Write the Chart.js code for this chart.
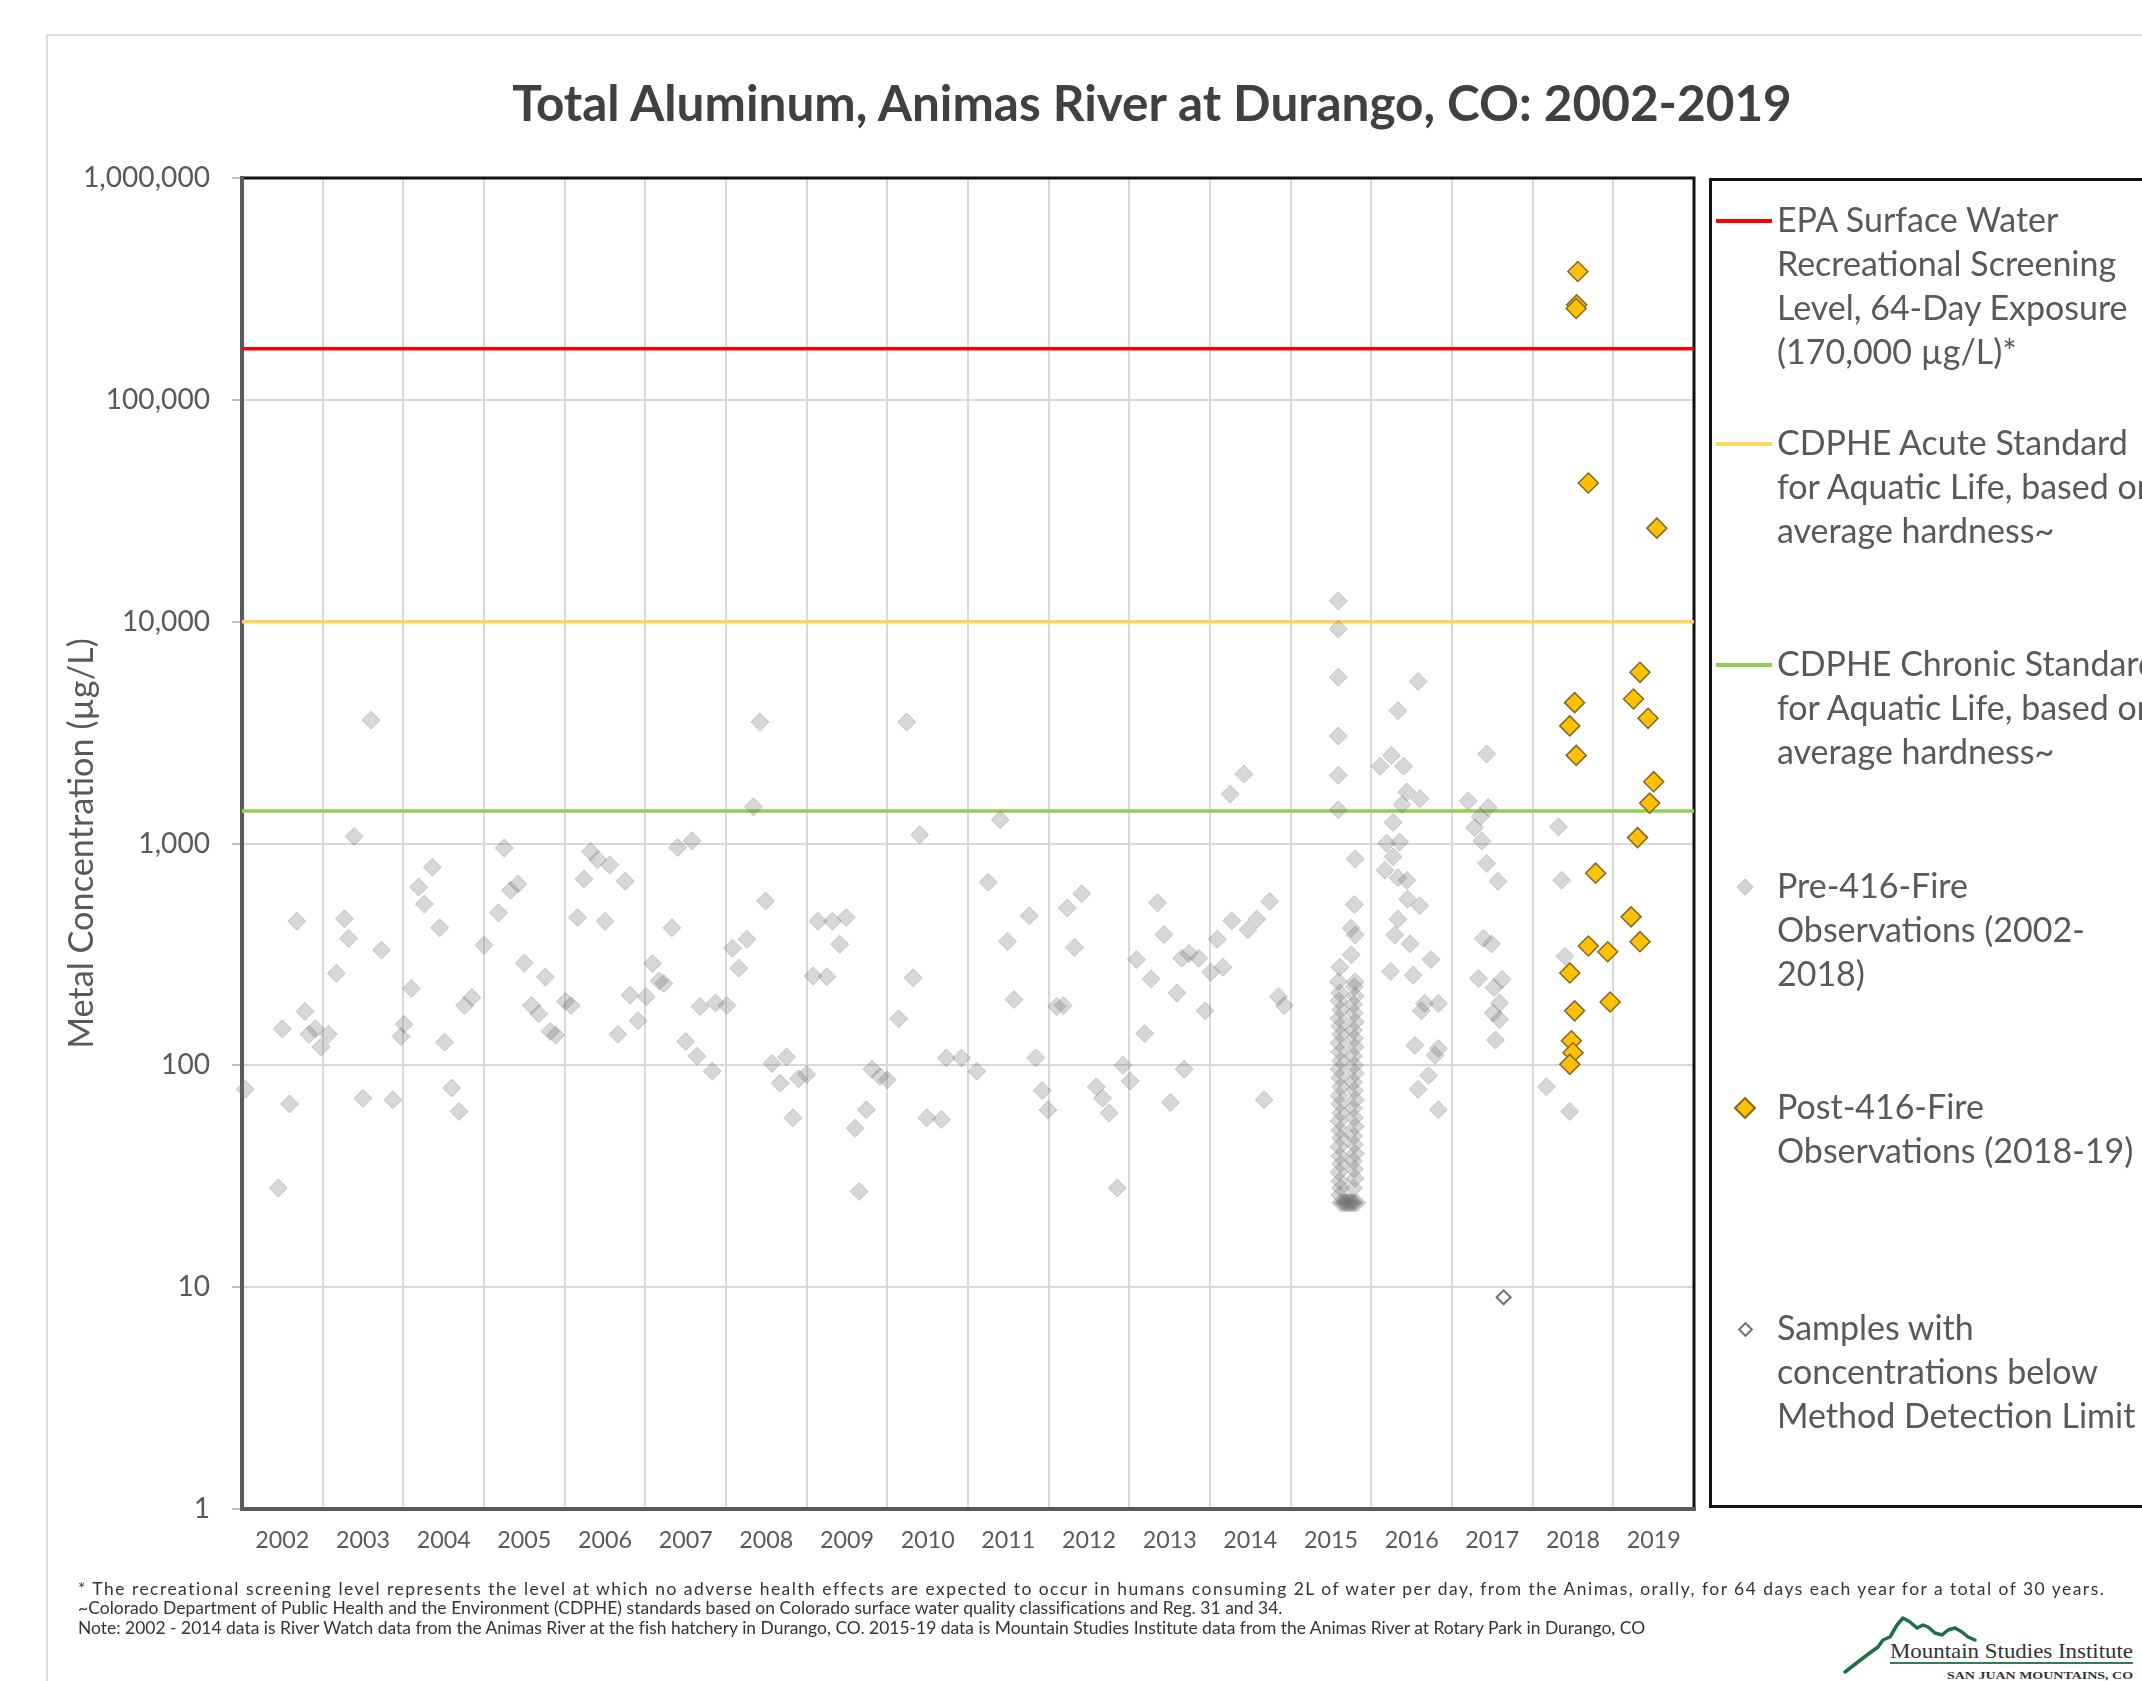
<!DOCTYPE html>
<html>
<head>
<meta charset="utf-8">
<title>Total Aluminum, Animas River at Durango, CO: 2002-2019</title>
<script src="https://cdn.jsdelivr.net/npm/chart.js@4.4.1/dist/chart.umd.min.js"></script>
<style>
  html, body { margin: 0; padding: 0; background: #fff; }
  body { position: relative; width: 2142px; height: 1681px; overflow: hidden; font-family: Lato, 'Open Sans', sans-serif; }
  #frame { position: absolute; left: 46px; top: 34px; width: 2400px; height: 1800px; border: 2px solid #dcdcdc; box-sizing: border-box; }
  #chart { position: absolute; left: 0; top: 0; }
  #legendBox { position: absolute; left: 1709px; top: 178px; width: 700px; height: 1330px; border: 3px solid #111; box-sizing: border-box; }
  .txt { position: absolute; white-space: nowrap; }
  .mk { position: absolute; box-sizing: border-box; }
</style>
</head>
<body>
<div id="frame"></div>
<canvas id="chart" width="1720" height="1600"></canvas>
<div id="legendBox"></div>
<div id="overlay"></div>
<svg id="logo" width="312" height="81" style="position:absolute;left:1830px;top:1600px" xmlns="http://www.w3.org/2000/svg">
  <polyline points="15,72 37,55 48,47 53,40 60,37 67,25 73,18 80,22 87,28 93,25 98,27 105,33 112,35 118,30 125,28 132,32 138,37 145,40"
            fill="none" stroke="#1f6e4a" stroke-width="3.5" stroke-linejoin="round" stroke-linecap="round"/>
  <line x1="60" y1="63" x2="303" y2="63" stroke="#2f7d5a" stroke-width="2"/>
  <text x="60" y="58" font-family="Liberation Serif, serif" font-size="21" fill="#333" textLength="243" lengthAdjust="spacingAndGlyphs">Mountain Studies Institute</text>
  <text x="117" y="79" font-family="Liberation Serif, serif" font-size="10" font-weight="bold" fill="#333" textLength="186" lengthAdjust="spacingAndGlyphs">SAN JUAN MOUNTAINS, CO</text>
</svg>
<script>
// ---- data (decimal year, µg/L) ----
const yearTicks = [2002, 2003, 2004, 2005, 2006, 2007, 2008, 2009, 2010, 2011,
                   2012, 2013, 2014, 2015, 2016, 2017, 2018, 2019, 2020];
const yearLabels = ['2002', '2003', '2004', '2005', '2006', '2007', '2008', '2009', '2010',
                    '2011', '2012', '2013', '2014', '2015', '2016', '2017', '2018', '2019'];
const concTicks = [1, 10, 100, 1000, 10000, 100000, 1000000];

const standardNames  = ['EPA Surface Water Recreational Screening Level', 'CDPHE Acute Standard', 'CDPHE Chronic Standard'];
const standardValues = [170000, 10000, 1400];

const preFire = [
  [2002.04, 78], [2002.68, 446], [2002.50, 146], [2002.59, 67], [2002.45, 28], [2002.78, 175],
  [2002.83, 138], [2002.91, 146], [2002.98, 121], [2003.07, 138], [2003.17, 260], [2003.27, 458],
  [2003.32, 373], [2003.39, 1076], [2003.60, 3597], [2003.50, 71], [2003.73, 331], [2003.87, 70],
  [2004.01, 153], [2003.97, 135], [2004.10, 222], [2004.19, 636], [2004.36, 782], [2004.26, 533],
  [2004.45, 417], [2004.51, 127], [2004.60, 79], [2004.69, 62], [2004.76, 186], [2004.85, 202],
  [2005.00, 348], [2005.18, 487], [2005.25, 955], [2005.33, 616], [2005.42, 657], [2005.50, 289],
  [2005.59, 186], [2005.68, 171], [2005.76, 250], [2005.82, 142], [2005.89, 137], [2006.01, 194],
  [2006.08, 186], [2006.16, 464], [2006.24, 691], [2006.32, 920], [2006.41, 845], [2006.56, 801],
  [2006.50, 446], [2006.75, 676], [2006.66, 138], [2006.81, 207], [2006.91, 159], [2007.01, 204],
  [2007.09, 288], [2007.17, 240], [2007.23, 234], [2007.33, 417], [2007.40, 959], [2007.58, 1028],
  [2007.50, 128], [2007.64, 110], [2007.83, 94], [2007.68, 184], [2007.87, 191], [2008.01, 186],
  [2008.08, 337], [2008.16, 274],
  [2008.42, 3525], [2008.34, 1465], [2008.49, 551], [2008.26, 370], [2008.57, 102], [2008.75, 109],
  [2008.67, 83], [2008.83, 58], [2008.90, 87], [2009.00, 91], [2009.08, 253], [2009.14, 446],
  [2009.25, 251], [2009.32, 446], [2009.41, 351], [2009.49, 464], [2009.60, 52], [2009.74, 63],
  [2009.65, 27], [2009.81, 96], [2009.91, 89], [2010.00, 86], [2010.14, 162], [2010.24, 3525],
  [2010.32, 248], [2010.40, 1094], [2010.49, 58], [2010.67, 57], [2010.73, 108], [2010.92, 108],
  [2011.11, 94], [2011.25, 668], [2011.40, 1279], [2011.49, 362], [2011.76, 472], [2011.57, 198],
  [2011.84, 108], [2011.92, 77], [2011.99, 63], [2012.10, 184], [2012.18, 186], [2012.23, 512],
  [2012.41, 593], [2012.32, 340], [2012.59, 80], [2012.67, 71], [2012.75, 61], [2012.85, 28],
  [2012.92, 100], [2013.01, 85], [2013.09, 300], [2013.19, 139], [2013.27, 245], [2013.35, 540],
  [2013.43, 389], [2013.51, 68], [2013.59, 212], [2013.65, 304], [2013.74, 319], [2013.86, 304],
  [2013.68, 96], [2013.94, 176], [2014.01, 263], [2014.09, 370], [2014.16, 277], [2014.25, 1670],
  [2014.27, 449], [2014.42, 2055], [2014.74, 548], [2014.47, 409], [2014.58, 456], [2014.85, 204],
  [2014.92, 186], [2014.67, 70],
  // 2015
  [2015.59, 12400], [2015.59, 9270], [2015.59, 5620], [2015.59, 3050], [2015.59, 2030], [2015.59, 1419],
  [2015.80, 851], [2015.79, 531], [2015.75, 415], [2015.80, 387], [2015.75, 315], [2015.61, 277],
  [2015.80, 238], [2015.59, 238],
  [2015.61, 212], [2015.60, 195], [2015.62, 178], [2015.60, 163], [2015.61, 150], [2015.62, 138],
  [2015.60, 126], [2015.61, 115], [2015.62, 105], [2015.60, 96], [2015.61, 88], [2015.62, 80],
  [2015.60, 73], [2015.61, 67], [2015.62, 61], [2015.60, 56], [2015.61, 51], [2015.62, 47],
  [2015.60, 43], [2015.61, 39], [2015.62, 36], [2015.60, 33], [2015.61, 30], [2015.62, 28], [2015.61, 26],
  [2015.79, 226], [2015.80, 205], [2015.78, 188], [2015.79, 172], [2015.80, 157], [2015.78, 144],
  [2015.79, 132], [2015.80, 121], [2015.78, 110], [2015.79, 100], [2015.80, 92], [2015.78, 84],
  [2015.79, 77], [2015.80, 70], [2015.78, 64], [2015.79, 58], [2015.80, 53], [2015.78, 48],
  [2015.79, 44], [2015.80, 40], [2015.78, 37], [2015.79, 34], [2015.80, 31], [2015.78, 28],
  [2015.62, 24], [2015.65, 24], [2015.67, 24], [2015.69, 24], [2015.71, 24], [2015.73, 24],
  [2015.75, 24], [2015.77, 24], [2015.79, 24], [2015.82, 24],
  // 2016
  [2016.58, 5380], [2016.33, 3970], [2016.25, 2496], [2016.11, 2230], [2016.40, 2230], [2016.44, 1706],
  [2016.60, 1592], [2016.38, 1500], [2016.27, 1245], [2016.19, 1002], [2016.35, 1016], [2016.27, 871],
  [2016.17, 758], [2016.33, 701], [2016.44, 682], [2016.45, 561], [2016.60, 524], [2016.33, 456],
  [2016.29, 387], [2016.48, 353], [2016.74, 300], [2016.24, 265], [2016.52, 255], [2016.66, 190],
  [2016.83, 190], [2016.62, 176], [2016.54, 123], [2016.83, 119], [2016.79, 111], [2016.71, 90],
  [2016.58, 78], [2016.83, 63],
  // 2017
  [2017.43, 2531], [2017.20, 1556], [2017.45, 1452], [2017.35, 1324], [2017.28, 1178], [2017.37, 1025],
  [2017.43, 813], [2017.57, 676], [2017.39, 373], [2017.49, 353], [2017.33, 246], [2017.62, 244],
  [2017.52, 224], [2017.59, 191], [2017.51, 172], [2017.59, 161], [2017.54, 130],
  // 2018, before the fire
  [2018.32, 1189], [2018.36, 682], [2018.40, 310], [2018.17, 80], [2018.46, 62]
];

const postFire = [
  [2018.56, 379000], [2018.545, 268000], [2018.54, 258000], [2018.69, 42200], [2019.54, 26400],
  [2018.52, 4315], [2018.46, 3390], [2018.54, 2496], [2018.78, 735], [2018.69, 345], [2018.93, 325],
  [2018.46, 261], [2018.52, 176], [2018.96, 193], [2018.48, 129], [2018.50, 114], [2018.46, 101],
  [2019.33, 5910], [2019.25, 4480], [2019.43, 3667], [2019.50, 1900], [2019.45, 1521], [2019.30, 1063],
  [2019.22, 467], [2019.33, 361]
];

const belowMdl = [[2017.64, 9]];

// ---- text ----
const titleText = 'Total Aluminum, Animas River at Durango, CO: 2002-2019';
const yTitleText = 'Metal Concentration (µg/L)';
const legendItems = [
  { kind: 'line', color: '#ff0000', lines: ['EPA Surface Water', 'Recreational Screening', 'Level, 64-Day Exposure', '(170,000 µg/L)*'], y: 221 },
  { kind: 'line', color: '#ffd45a', lines: ['CDPHE Acute Standard', 'for Aquatic Life, based on', 'average hardness~'], y: 444 },
  { kind: 'line', color: '#92d050', lines: ['CDPHE Chronic Standard', 'for Aquatic Life, based on', 'average hardness~'], y: 665 },
  { kind: 'pre',  lines: ['Pre-416-Fire', 'Observations (2002-', '2018)'], y: 887 },
  { kind: 'post', lines: ['Post-416-Fire', 'Observations (2018-19)'], y: 1108 },
  { kind: 'mdl',  lines: ['Samples with', 'concentrations below', 'Method Detection Limit'], y: 1329 }
];
const notes = [
  '* The recreational screening level represents the level at which no adverse health effects are expected to occur in humans consuming 2L of water per day,  from the Animas, orally, for 64 days each year for a total of 30 years.',
  '~Colorado Department of Public Health and the Environment (CDPHE) standards based on Colorado surface water quality classifications and Reg. 31 and 34.',
  'Note: 2002 - 2014  data is River Watch data from the Animas River at the fish hatchery in Durango, CO. 2015-19 data is Mountain Studies Institute data from the Animas River at Rotary Park in Durango, CO'
];
const noteWidths = [2039, 1206, 1575];

// ---- helpers ----
const meas = document.createElement('canvas').getContext('2d');
function textWidth(text, size, weight = 'normal', family = 'Lato') {
  meas.font = `${weight} ${size}px ${family}`;
  return meas.measureText(text).width;
}
function fitSize(text, target, weight = 'normal', family = 'Lato') {
  return 100 * target / textWidth(text, 100, weight, family);
}

const overlay = document.getElementById('overlay');
// put a line of text so that its middle sits on centerY
function addText(text, left, centerY, size, opts = {}) {
  const d = document.createElement('div');
  d.className = 'txt';
  d.textContent = text;
  d.style.fontSize = size + 'px';
  d.style.lineHeight = (size * 1.2) + 'px';
  d.style.top = (centerY - size * 0.66) + 'px';
  d.style.left = left + 'px';
  d.style.color = opts.color || '#595959';
  if (opts.weight) d.style.fontWeight = opts.weight;
  if (opts.spacing) d.style.letterSpacing = opts.spacing + 'px';
  if (opts.width) { d.style.width = opts.width + 'px'; d.style.textAlign = 'center'; }
  overlay.appendChild(d);
  return d;
}

// title
const titleSize = fitSize(titleText, 1284, 'bold');
addText(titleText, 0, 106, titleSize, { weight: 'bold', color: '#404040', width: 2304 });

// legend
const legendSize = fitSize('EPA Surface Water', 283);
const legendGap = 44.3;
legendItems.forEach(item => {
  item.lines.forEach((ln, i) => addText(ln, 1777, item.y + i * legendGap, legendSize));
  const m = document.createElement('div');
  m.className = 'mk';
  if (item.kind === 'line') {
    Object.assign(m.style, { left: '1716px', top: (item.y - 2) + 'px', width: '56px', height: '4px', background: item.color });
  } else if (item.kind === 'pre') {
    Object.assign(m.style, { left: '1739px', top: (item.y - 6) + 'px', width: '12px', height: '12px',
      background: '#d3d3d3', border: '1px solid #c4c4c4', transform: 'rotate(45deg)' });
  } else if (item.kind === 'post') {
    Object.assign(m.style, { left: '1737px', top: (item.y - 8) + 'px', width: '16px', height: '16px',
      background: '#ffc000', border: '2px solid #7f6a2a', transform: 'rotate(45deg)' });
  } else {
    Object.assign(m.style, { left: '1740px', top: (item.y - 5) + 'px', width: '11px', height: '11px',
      background: '#fff', border: '2.5px solid #6f6f6f', transform: 'rotate(45deg)' });
  }
  overlay.appendChild(m);
});

// footnotes: one size for all three, the first line is spread out wider
const noteSize = fitSize(notes[2], noteWidths[2]);
[1591, 1610, 1630].forEach((y, i) => {
  const natural = textWidth(notes[i], noteSize);
  const spacing = (noteWidths[i] - natural) / notes[i].length;
  addText(notes[i], 78, y, noteSize, { color: '#333', spacing });
});

// ---- chart ----
const plotFrame = {
  id: 'plotFrame',
  beforeDatasetsDraw(chart) {
    const { ctx, chartArea: a } = chart;
    ctx.save();
    ctx.lineCap = 'square';
    ctx.strokeStyle = '#111';
    ctx.lineWidth = 3;
    ctx.beginPath();
    ctx.moveTo(a.left, a.top); ctx.lineTo(a.right, a.top); ctx.lineTo(a.right, a.bottom);
    ctx.stroke();
    ctx.strokeStyle = '#5a5a5a';
    ctx.lineWidth = 4;
    ctx.beginPath();
    ctx.moveTo(a.left, a.top); ctx.lineTo(a.left, a.bottom); ctx.lineTo(a.right, a.bottom);
    ctx.stroke();
    ctx.restore();
  }
};

const toXY = arr => arr.map(([x, y]) => ({ x, y }));
const standardColors = ['#ff0000', '#ffd45a', '#92d050'];

const yTickSize = fitSize('1,000,000', 127);
const xTickSize = fitSize('2002', 54);
const yTitleSize = fitSize(yTitleText, 411);
const bandHalf = (1694 - 242) / 18 / 2;

new Chart(document.getElementById('chart'), {
  type: 'scatter',
  data: {
    datasets: [
      { label: 'Post-416-Fire Observations (2018-19)', data: toXY(postFire), pointStyle: 'rectRot',
        pointRadius: 10, backgroundColor: '#ffc000', borderColor: '#7f6a2a', borderWidth: 1.5, clip: false },
      { label: 'Samples with concentrations below Method Detection Limit', data: toXY(belowMdl), pointStyle: 'rectRot',
        pointRadius: 7, backgroundColor: '#ffffff', borderColor: '#6f6f6f', borderWidth: 2, clip: false },
      { label: 'Pre-416-Fire Observations (2002-2018)', data: toXY(preFire), pointStyle: 'rectRot',
        pointRadius: 9, backgroundColor: 'rgba(110,110,110,0.28)', borderColor: 'rgba(110,110,110,0.3)',
        borderWidth: 1, clip: false },
      ...standardValues.map((v, i) => ({
        type: 'line', label: standardNames[i],
        data: [{ x: yearTicks[0], y: v }, { x: yearTicks[yearTicks.length - 1], y: v }],
        borderColor: standardColors[i], borderWidth: 3.5, pointRadius: 0, fill: false
      }))
    ]
  },
  options: {
    responsive: false,
    animation: false,
    devicePixelRatio: 1,
    layout: { padding: { top: 178, right: 26, bottom: 0, left: 0 } },
    plugins: { legend: { display: false }, tooltip: { enabled: false } },
    scales: {
      x: {
        type: 'linear',
        min: yearTicks[0],
        max: yearTicks[yearTicks.length - 1],
        afterBuildTicks: s => { s.ticks = yearTicks.map(v => ({ value: v })); },
        afterFit: s => { s.height = 91; },
        grid: { color: '#d9d9d9', lineWidth: 2, drawTicks: false },
        border: { display: false },
        ticks: {
          autoSkip: false, maxRotation: 0, minRotation: 0,
          labelOffset: bandHalf,
          padding: 31 - xTickSize * 0.6,
          color: '#595959',
          font: { family: 'Lato', size: xTickSize },
          callback: (v, i) => yearLabels[i] || ''
        }
      },
      y: {
        type: 'logarithmic',
        min: concTicks[0],
        max: concTicks[concTicks.length - 1],
        afterBuildTicks: s => { s.ticks = concTicks.map(v => ({ value: v })); },
        afterFit: s => { s.width = 242; },
        grid: { color: '#d9d9d9', lineWidth: 2, tickLength: 10, tickColor: '#bfbfbf' },
        border: { display: false },
        ticks: {
          padding: 22,
          color: '#595959',
          font: { family: 'Lato', size: yTickSize },
          callback: v => Number(v).toLocaleString('en-US')
        },
        title: {
          display: true,
          text: yTitleText,
          color: '#595959',
          font: { family: 'Lato', size: yTitleSize },
          padding: { top: 82 - yTitleSize * 0.6, bottom: 0 }
        }
      }
    }
  },
  plugins: [plotFrame]
});
</script>
</body>
</html>
